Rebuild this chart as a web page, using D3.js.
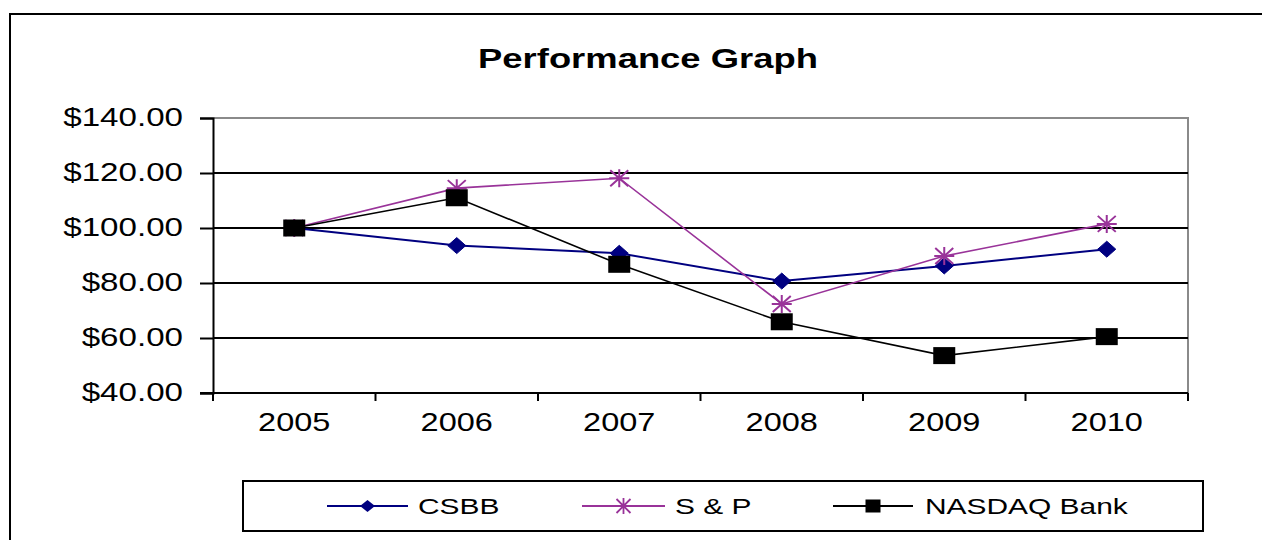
<!DOCTYPE html>
<html>
<head>
<meta charset="utf-8">
<script src="https://cdn.jsdelivr.net/npm/d3@7"></script>
<style>
  html, body { margin: 0; padding: 0; background: #fff; }
  svg { display: block; }
  text { font-family: Arial, "Liberation Sans", sans-serif; fill: #000; }
</style>
</head>
<body>
<svg id="chart" width="1262" height="540"></svg>
<script>
// Cumulative value of $100 invested, 2005–2010
const years = ["2005", "2006", "2007", "2008", "2009", "2010"];
const csbbValues = [100, 93.6, 90.8, 80.7, 86.2, 92.3];
const spValues = [100, 114.5, 118.1, 72.4, 89.8, 101.5];
const nasdaqValues = [100, 111.0, 86.8, 65.9, 53.6, 60.5];
const yTickValues = [40, 60, 80, 100, 120, 140];
const seriesNames = ["CSBB", "S & P", "NASDAQ Bank"];
const titleText = "Performance Graph";

const series = [
  { name: seriesNames[0], values: csbbValues, color: "#000080", marker: "diamond", width: 2 },
  { name: seriesNames[1], values: spValues, color: "#993399", marker: "star", width: 1.6 },
  { name: seriesNames[2], values: nasdaqValues, color: "#000000", marker: "square", width: 1.6 }
];

const SX = 1.3; // wide glyph rendering
const svg = d3.select("#chart");

// outer chart frame (left and top edges visible)
svg.append("path")
  .attr("d", "M10,540 L10,14 L1262,14")
  .attr("fill", "none").attr("stroke", "#000").attr("stroke-width", 2);

const plot = { left: 213, right: 1188, top: 118, bottom: 393 };

const x = d3.scaleBand().domain(years).range([plot.left, plot.right]);
const cx = d => x(d) + x.bandwidth() / 2;
const y = d3.scaleLinear().domain([40, 140]).range([plot.bottom, plot.top]);

function stretchedText(g, tx, ty, str, size, weight, anchor, sx) {
  return g.append("text")
    .attr("transform", `translate(${tx},${ty}) scale(${sx || SX},1)`)
    .attr("font-size", size)
    .attr("font-weight", weight || "normal")
    .attr("text-anchor", anchor || "start")
    .text(str);
}

// title
stretchedText(svg, 648, 68, titleText, 28, "bold", "middle", 1.3);

// plot area border (grey top and right)
svg.append("path")
  .attr("d", `M${plot.left},${plot.top} L${plot.right},${plot.top} L${plot.right},${plot.bottom}`)
  .attr("fill", "none").attr("stroke", "#8a8a8a").attr("stroke-width", 2);

// horizontal gridlines
svg.append("g").selectAll("line")
  .data(yTickValues.filter(v => v > 40 && v < 140))
  .join("line")
  .attr("x1", plot.left).attr("x2", plot.right)
  .attr("y1", d => y(d)).attr("y2", d => y(d))
  .attr("stroke", "#000").attr("stroke-width", 2);

// y axis
const yAxis = svg.append("g")
  .attr("transform", `translate(${plot.left},0)`)
  .call(d3.axisLeft(y).tickValues(yTickValues).tickSize(13).tickPadding(17)
    .tickFormat(d3.format("$.2f")));
yAxis.select(".domain").attr("stroke", "#000").attr("stroke-width", 2);
yAxis.selectAll(".tick line").attr("stroke", "#000").attr("stroke-width", 2);
yAxis.selectAll(".tick text")
  .attr("font-size", 25.5)
  .attr("font-family", "Arial, 'Liberation Sans', sans-serif")
  .attr("fill", "#000")
  .attr("dy", "0.28em")
  .attr("x", -30 / SX)
  .attr("transform", `scale(${SX},1)`);

// x axis line and boundary ticks
svg.append("line")
  .attr("x1", plot.left - 13).attr("x2", plot.right)
  .attr("y1", plot.bottom).attr("y2", plot.bottom)
  .attr("stroke", "#000").attr("stroke-width", 2);
const boundaries = years.map(d => x(d)).concat([plot.right]);
svg.append("g").selectAll("line")
  .data(boundaries)
  .join("line")
  .attr("x1", d => d).attr("x2", d => d)
  .attr("y1", plot.bottom).attr("y2", plot.bottom + 8)
  .attr("stroke", "#000").attr("stroke-width", 2);

const xAxis = svg.append("g")
  .attr("transform", `translate(0,${plot.bottom})`)
  .call(d3.axisBottom(x).tickSize(0).tickPadding(20));
xAxis.select(".domain").remove();
xAxis.selectAll(".tick text")
  .attr("font-size", 25)
  .attr("font-family", "Arial, 'Liberation Sans', sans-serif")
  .attr("fill", "#000")
  .attr("transform", `scale(${SX},1)`);

// markers
function drawMarker(g, type, color, px, py) {
  if (type === "diamond") {
    g.append("path")
      .attr("d", `M${px},${py - 8} L${px + 9},${py} L${px},${py + 8} L${px - 9},${py} Z`)
      .attr("fill", color).attr("stroke", color).attr("stroke-width", 1);
  } else if (type === "square") {
    g.append("rect")
      .attr("x", px - 11).attr("y", py - 8.5)
      .attr("width", 22).attr("height", 17)
      .attr("fill", color);
  } else if (type === "star") {
    const p = d3.path();
    p.moveTo(px - 10, py); p.lineTo(px + 10, py);
    p.moveTo(px, py - 9); p.lineTo(px, py + 9);
    p.moveTo(px - 9, py - 8); p.lineTo(px + 9, py + 8);
    p.moveTo(px - 9, py + 8); p.lineTo(px + 9, py - 8);
    g.append("path").attr("d", p.toString())
      .attr("fill", "none").attr("stroke", color).attr("stroke-width", 2);
  }
}

const line = d3.line().x((d, i) => cx(years[i])).y(d => y(d));

series.forEach(s => {
  const g = svg.append("g");
  g.append("path")
    .attr("d", line(s.values))
    .attr("fill", "none")
    .attr("stroke", s.color)
    .attr("stroke-width", s.width);
  s.values.forEach((v, i) => drawMarker(g, s.marker, s.color, cx(years[i]), y(v)));
});

// legend
const legend = svg.append("g");
legend.append("rect")
  .attr("x", 243).attr("y", 481).attr("width", 960).attr("height", 50)
  .attr("fill", "#fff").attr("stroke", "#000").attr("stroke-width", 2);

const legendItems = [
  { s: series[0], x0: 327, x1: 408, text: 418 },
  { s: series[1], x0: 582, x1: 665, text: 675 },
  { s: series[2], x0: 833, x1: 913, text: 925 }
];
const ly = 506;
legendItems.forEach(it => {
  legend.append("line")
    .attr("x1", it.x0).attr("x2", it.x1)
    .attr("y1", ly).attr("y2", ly)
    .attr("stroke", it.s.color).attr("stroke-width", 2);
  const m = it.s.marker;
  const mx = (it.x0 + it.x1) / 2;
  if (m === "diamond") {
    legend.append("path")
      .attr("d", `M${mx},${ly - 6} L${mx + 7.5},${ly} L${mx},${ly + 6} L${mx - 7.5},${ly} Z`)
      .attr("fill", it.s.color);
  } else if (m === "square") {
    legend.append("rect")
      .attr("x", mx - 7.5).attr("y", ly - 6.5).attr("width", 15).attr("height", 13)
      .attr("fill", it.s.color);
  } else {
    const p = d3.path();
    p.moveTo(mx - 8, ly); p.lineTo(mx + 8, ly);
    p.moveTo(mx, ly - 8); p.lineTo(mx, ly + 8);
    p.moveTo(mx - 7, ly - 7); p.lineTo(mx + 7, ly + 7);
    p.moveTo(mx - 7, ly + 7); p.lineTo(mx + 7, ly - 7);
    legend.append("path").attr("d", p.toString())
      .attr("fill", "none").attr("stroke", it.s.color).attr("stroke-width", 1.8);
  }
  stretchedText(legend, it.text, ly + 8, it.s.name, 22, "normal", "start", 1.36);
});
</script>
</body>
</html>
